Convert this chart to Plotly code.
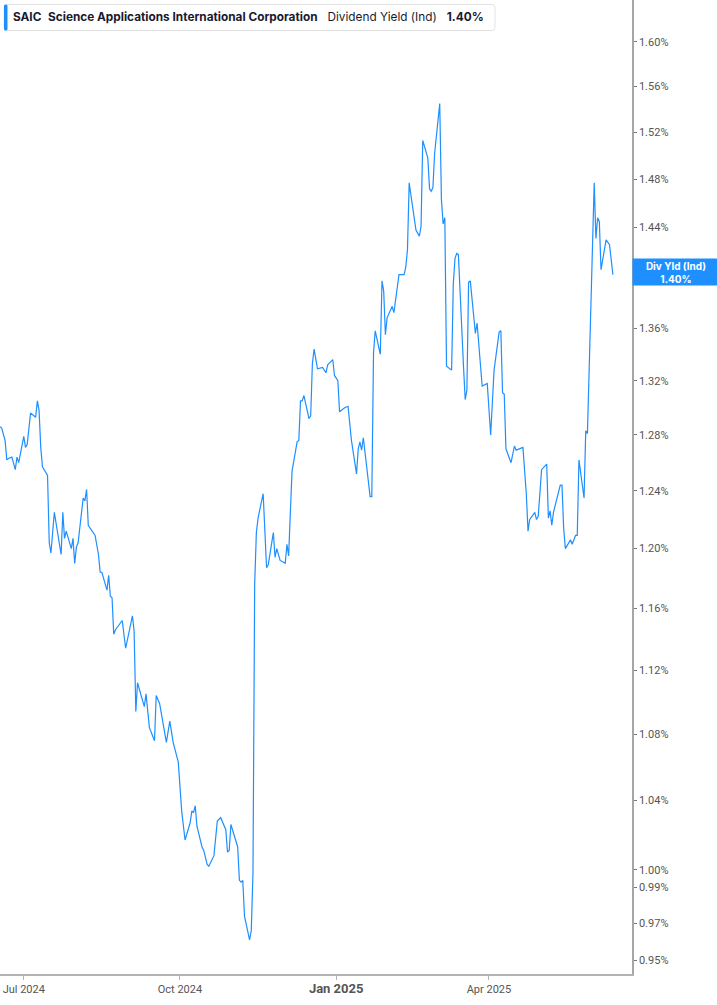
import math
import plotly.graph_objects as go

# SAIC dividend yield (indicated), %
dates = [
    "2024-06-17", "2024-06-18", "2024-06-20", "2024-06-21", "2024-06-22", "2024-06-24",
    "2024-06-26", "2024-06-27", "2024-06-28", "2024-07-01", "2024-07-02", "2024-07-03",
    "2024-07-05", "2024-07-08", "2024-07-09", "2024-07-10", "2024-07-11", "2024-07-12",
    "2024-07-15", "2024-07-16", "2024-07-17", "2024-07-19", "2024-07-23", "2024-07-24",
    "2024-07-25", "2024-07-26", "2024-07-29", "2024-07-30", "2024-07-31", "2024-08-01",
    "2024-08-02", "2024-08-05", "2024-08-06", "2024-08-07", "2024-08-08", "2024-08-12",
    "2024-08-14", "2024-08-15", "2024-08-16", "2024-08-19", "2024-08-20", "2024-08-21",
    "2024-08-22", "2024-08-23", "2024-08-24", "2024-08-26", "2024-08-28", "2024-08-30",
    "2024-09-03", "2024-09-04", "2024-09-05", "2024-09-06", "2024-09-10", "2024-09-11",
    "2024-09-13", "2024-09-16", "2024-09-17", "2024-09-19", "2024-09-23", "2024-09-25",
    "2024-09-27", "2024-09-30", "2024-10-02", "2024-10-04", "2024-10-07", "2024-10-08",
    "2024-10-09", "2024-10-10", "2024-10-11", "2024-10-14", "2024-10-15", "2024-10-17",
    "2024-10-18", "2024-10-21", "2024-10-23", "2024-10-25", "2024-10-28", "2024-10-29",
    "2024-10-30", "2024-10-31", "2024-11-01", "2024-11-04", "2024-11-05", "2024-11-06",
    "2024-11-07", "2024-11-08", "2024-11-11", "2024-11-12", "2024-11-13", "2024-11-14",
    "2024-11-15", "2024-11-16", "2024-11-19", "2024-11-21", "2024-11-22", "2024-11-25",
    "2024-11-26", "2024-11-27", "2024-11-29", "2024-12-01", "2024-12-02", "2024-12-03",
    "2024-12-04", "2024-12-06", "2024-12-07", "2024-12-09", "2024-12-10", "2024-12-11",
    "2024-12-12", "2024-12-13", "2024-12-16", "2024-12-17", "2024-12-18", "2024-12-19",
    "2024-12-21", "2024-12-24", "2024-12-26", "2024-12-27", "2024-12-30", "2024-12-31",
    "2025-01-02", "2025-01-03", "2025-01-06", "2025-01-08", "2025-01-10", "2025-01-13",
    "2025-01-14", "2025-01-15", "2025-01-16", "2025-01-17", "2025-01-21", "2025-01-22",
    "2025-01-23", "2025-01-24", "2025-01-27", "2025-01-28", "2025-01-29", "2025-01-30",
    "2025-01-31", "2025-02-03", "2025-02-04", "2025-02-07", "2025-02-08", "2025-02-10",
    "2025-02-11", "2025-02-12", "2025-02-13", "2025-02-17", "2025-02-19", "2025-02-20",
    "2025-02-21", "2025-02-24", "2025-02-25", "2025-02-26", "2025-02-27", "2025-02-28",
    "2025-03-03", "2025-03-04", "2025-03-05", "2025-03-06", "2025-03-07", "2025-03-10",
    "2025-03-11", "2025-03-12", "2025-03-13", "2025-03-14", "2025-03-17", "2025-03-18",
    "2025-03-19", "2025-03-20", "2025-03-21", "2025-03-24", "2025-03-25", "2025-03-28",
    "2025-03-31", "2025-04-02", "2025-04-04", "2025-04-07", "2025-04-08", "2025-04-09",
    "2025-04-10", "2025-04-11", "2025-04-14", "2025-04-16", "2025-04-17", "2025-04-21",
    "2025-04-23", "2025-04-24", "2025-04-25", "2025-04-28", "2025-04-29", "2025-04-30",
    "2025-05-02", "2025-05-05", "2025-05-06", "2025-05-07", "2025-05-08", "2025-05-09",
    "2025-05-13", "2025-05-14", "2025-05-15", "2025-05-16", "2025-05-19", "2025-05-20",
    "2025-05-22", "2025-05-23", "2025-05-24", "2025-05-27", "2025-05-28", "2025-05-29",
    "2025-06-02", "2025-06-03", "2025-06-04", "2025-06-05", "2025-06-06", "2025-06-09",
    "2025-06-11", "2025-06-12", "2025-06-13",
]

div_yield = [
    1.286, 1.285, 1.276, 1.262, 1.263, 1.264,
    1.255, 1.264, 1.260, 1.279, 1.271, 1.273,
    1.296, 1.293, 1.305, 1.298, 1.271, 1.257,
    1.251, 1.204, 1.197, 1.225, 1.196, 1.225,
    1.207, 1.212, 1.200, 1.207, 1.190, 1.201,
    1.204, 1.235, 1.233, 1.241, 1.216, 1.209,
    1.196, 1.184, 1.184, 1.172, 1.182, 1.168,
    1.167, 1.143, 1.146, 1.149, 1.152, 1.134,
    1.155, 1.145, 1.094, 1.112, 1.097, 1.105,
    1.084, 1.076, 1.104, 1.099, 1.075, 1.088,
    1.075, 1.063, 1.034, 1.017, 1.027, 1.034,
    1.033, 1.037, 1.025, 1.013, 1.011, 1.003,
    1.002, 1.008, 1.028, 1.030, 1.023, 1.010,
    1.011, 1.026, 1.023, 1.013, 0.994, 0.993,
    0.994, 0.974, 0.961, 0.966, 0.998, 1.176,
    1.211, 1.221, 1.238, 1.187, 1.189, 1.211,
    1.194, 1.200, 1.192, 1.191, 1.190, 1.203,
    1.195, 1.254, 1.262, 1.275, 1.276, 1.305,
    1.305, 1.309, 1.292, 1.294, 1.333, 1.344,
    1.329, 1.330, 1.326, 1.332, 1.336, 1.324,
    1.320, 1.297, 1.300, 1.301, 1.276, 1.252,
    1.270, 1.275, 1.269, 1.278, 1.236, 1.236,
    1.341, 1.358, 1.340, 1.397, 1.389, 1.355,
    1.368, 1.377, 1.372, 1.402, 1.402, 1.402,
    1.408, 1.422, 1.477, 1.438, 1.433, 1.441,
    1.513, 1.498, 1.472, 1.470, 1.473, 1.502,
    1.545, 1.463, 1.443, 1.448, 1.331, 1.328,
    1.395, 1.415, 1.419, 1.418, 1.331, 1.306,
    1.313, 1.396, 1.397, 1.356, 1.364, 1.316,
    1.318, 1.280, 1.328, 1.357, 1.358, 1.311,
    1.310, 1.270, 1.260, 1.272, 1.269, 1.271,
    1.238, 1.212, 1.220, 1.225, 1.220, 1.222,
    1.255, 1.259, 1.221, 1.226, 1.216, 1.225,
    1.244, 1.244, 1.214, 1.200, 1.206, 1.203,
    1.209, 1.209, 1.262, 1.235, 1.283, 1.281,
    1.477, 1.431, 1.448, 1.445, 1.406, 1.430,
    1.426, 1.411, 1.402,
]

y_ticks = [0.95, 0.97, 0.99, 1.00, 1.04, 1.08, 1.12, 1.16, 1.20, 1.24,
           1.28, 1.32, 1.36, 1.40, 1.44, 1.48, 1.52, 1.56, 1.60]
x_ticks = ["2024-07-01", "2024-10-01", "2025-01-01", "2025-04-01"]
x_labels = ["Jul 2024", "Oct 2024",
            "<b><span style='font-size:13px'>Jan 2025</span></b>", "Apr 2025"]

ticker = "SAIC"
company = "Science Applications International Corporation"
metric = "Dividend Yield (Ind)"
last_val = div_yield[-1]

blue = "#1e8fff"
W, H = 717, 1005
ml, mr, mt, mb = 0, 85, 0, 31
pw, ph = W - ml - mr, H - mt - mb

fig = go.Figure()
fig.add_trace(go.Scatter(x=dates, y=div_yield, mode="lines",
                         line=dict(color=blue, width=1.2),
                         hovertemplate="%{x|%b %d, %Y}: %{y:.2f}%<extra></extra>"))

fig.update_layout(
    width=W, height=H,
    margin=dict(l=ml, r=mr, t=mt, b=mb),
    paper_bgcolor="white", plot_bgcolor="white",
    showlegend=False,
    font=dict(family="Roboto, Arial, sans-serif", size=11, color="#555"),
    xaxis=dict(
        range=["2024-06-17", "2025-06-24 06:00"],
        tickvals=x_ticks, ticktext=x_labels,
        showgrid=False, zeroline=False,
        showline=True, linecolor="#b3b3b3", linewidth=2,
        ticks="outside", ticklen=4, tickcolor="#b3b3b3", tickwidth=1,
        tickfont=dict(size=11, color="#555"),
    ),
    yaxis=dict(
        type="log", side="right",
        range=[math.log10(0.9425), math.log10(1.6386)],
        tickvals=y_ticks, ticktext=[f"{v:.2f}%" for v in y_ticks],
        showgrid=False, zeroline=False,
        showline=True, linecolor="#a6a6a6", linewidth=1.5,
        ticks="outside", ticklen=3, tickcolor="#777", tickwidth=1,
        tickfont=dict(size=11, color="#555"),
    ),
)

# pixel -> paper helpers for the decorations
def px(x):
    return (x - ml) / pw

def py(y):
    return 1 - (y - mt) / ph

def rounded_box(x0, y0, x1, y1, r):
    return (f"M{px(x0 + r)},{py(y0)} L{px(x1 - r)},{py(y0)} "
            f"Q{px(x1)},{py(y0)} {px(x1)},{py(y0 + r)} L{px(x1)},{py(y1 - r)} "
            f"Q{px(x1)},{py(y1)} {px(x1 - r)},{py(y1)} L{px(x0 + r)},{py(y1)} "
            f"Q{px(x0)},{py(y1)} {px(x0)},{py(y1 - r)} L{px(x0)},{py(y0 + r)} "
            f"Q{px(x0)},{py(y0)} {px(x0 + r)},{py(y0)} Z")

# header box top-left
fig.add_shape(type="path", xref="paper", yref="paper",
              path=rounded_box(4, 4.5, 495, 30.5, 3),
              fillcolor="white", line=dict(color="#e3e3e3", width=1), layer="above")
fig.add_shape(type="path", xref="paper", yref="paper",
              path=rounded_box(4, 4.5, 7.5, 30.5, 1.5),
              fillcolor=blue, line=dict(width=0), layer="above")
sp2 = "\u00a0" * 2
sp3 = "\u00a0" * 3
fig.add_annotation(
    xref="paper", yref="paper", x=px(11), y=py(17.5), xanchor="left", yanchor="middle",
    showarrow=False, align="left",
    text=f"<b>{ticker}</b>{sp2}<b>{company}</b>{sp3}{metric}{sp3}<b>{last_val:.2f}%</b>",
    font=dict(family="Inter, Arial, sans-serif", size=11.8, color="#1a1a2e"),
)

# last value tag on the right axis
fig.add_annotation(
    xref="paper", yref="y", x=1, y=math.log10(last_val), xanchor="left", yanchor="middle",
    yshift=3, showarrow=False, align="center",
    text=f"<b>Div Yld (Ind)</b><br><b>{last_val:.2f}%</b>",
    bgcolor=blue, width=84, height=24, borderpad=1,
    font=dict(family="Inter, Arial, sans-serif", size=10, color="white"),
)

# page body has an 8px default margin; drop it so the chart fills the window
fig.write_html("out.html", config={"displayModeBar": False},
               post_script="document.body.style.margin='0';")
